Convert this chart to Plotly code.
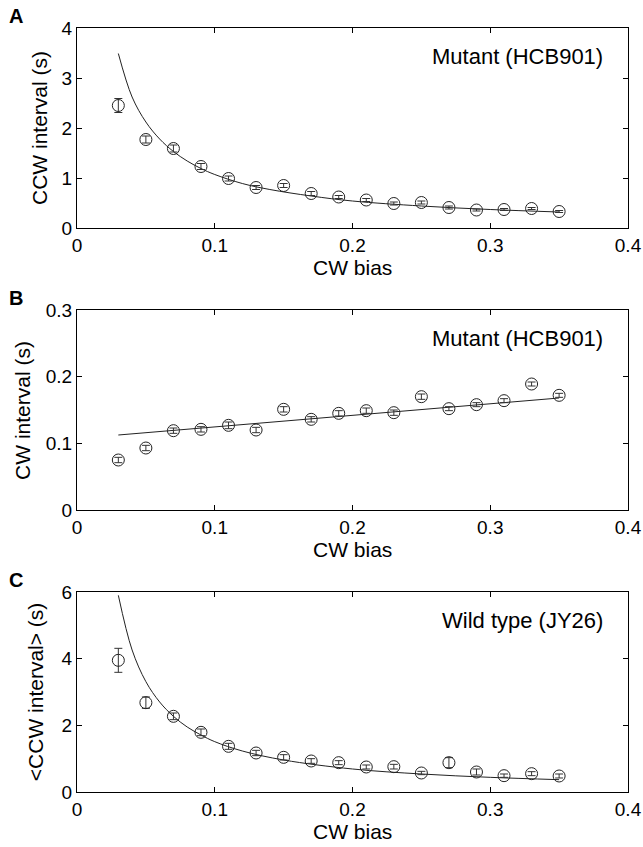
import plotly.graph_objects as go

# ---------------- data ----------------
cw_bias = [0.03, 0.05, 0.07, 0.09, 0.11, 0.13, 0.15, 0.17, 0.19, 0.21, 0.23, 0.25, 0.27, 0.29, 0.31, 0.33, 0.35]

# Panel A: Mutant (HCB901) CCW interval (s)
a_ccw = [2.45, 1.77, 1.59, 1.23, 0.99, 0.81, 0.85, 0.69, 0.62, 0.56, 0.49, 0.51, 0.41, 0.36, 0.37, 0.39, 0.33]
a_err = [0.14, 0.07, 0.07, 0.06, 0.05, 0.04, 0.04, 0.04, 0.03, 0.03, 0.03, 0.03, 0.03, 0.02, 0.02, 0.02, 0.02]
a_fit_x = [0.03, 0.04, 0.05, 0.06, 0.07, 0.08, 0.09, 0.10, 0.12, 0.14, 0.17, 0.20, 0.25, 0.30, 0.35]
a_fit_y = [3.49, 2.62, 2.12, 1.78, 1.53, 1.34, 1.19, 1.07, 0.89, 0.77, 0.64, 0.54, 0.44, 0.37, 0.32]

# Panel B: Mutant (HCB901) CW interval (s)
b_cw = [0.075, 0.093, 0.119, 0.121, 0.127, 0.120, 0.151, 0.136, 0.145, 0.149, 0.146, 0.170, 0.152, 0.158, 0.164, 0.189, 0.172]
b_err = [0.004, 0.004, 0.004, 0.004, 0.005, 0.004, 0.004, 0.004, 0.004, 0.004, 0.004, 0.004, 0.003, 0.003, 0.003, 0.003, 0.003]
b_fit_x = [0.03, 0.35]
b_fit_y = [0.1125, 0.168]

# Panel C: Wild type (JY26) <CCW interval> (s)
c_ccw = [3.95, 2.68, 2.27, 1.79, 1.37, 1.17, 1.04, 0.93, 0.88, 0.75, 0.76, 0.57, 0.88, 0.60, 0.49, 0.55, 0.48]
c_err = [0.36, 0.17, 0.10, 0.10, 0.09, 0.08, 0.08, 0.07, 0.06, 0.06, 0.07, 0.05, 0.15, 0.09, 0.05, 0.06, 0.06]
c_fit_x = [0.03, 0.04, 0.05, 0.06, 0.07, 0.08, 0.09, 0.10, 0.12, 0.15, 0.20, 0.25, 0.30, 0.35]
c_fit_y = [5.90, 4.26, 3.31, 2.70, 2.27, 1.95, 1.71, 1.51, 1.23, 0.96, 0.69, 0.54, 0.44, 0.37]

panel_letters = ["A", "B", "C"]
panel_labels = ["Mutant (HCB901)", "Mutant (HCB901)", "Wild type (JY26)"]
y_titles = ["CCW interval (s)", "CW interval (s)", "&lt;CCW interval&gt; (s)"]
x_title = "CW bias"
y_ranges = [[0, 4], [0, 0.3], [0, 6]]
y_dticks = [1, 0.1, 2]

# ---------------- figure ----------------
FONT = "Liberation Sans, Arial, Helvetica, sans-serif"
fig = go.Figure()

panels = [
    (cw_bias, a_ccw, a_err, a_fit_x, a_fit_y),
    (cw_bias, b_cw, b_err, b_fit_x, b_fit_y),
    (cw_bias, c_ccw, c_err, c_fit_x, c_fit_y),
]
domains = [[0.7382, 1.0], [0.3691, 0.6309], [0.0, 0.2618]]
ytitle_x = [-0.069, -0.100, -0.074]

for i, (x, y, e, fx, fy) in enumerate(panels):
    n = "" if i == 0 else str(i + 1)
    fig.add_trace(go.Scatter(
        x=fx, y=fy, mode="lines", line=dict(color="#222222", width=1, shape="spline", smoothing=1.0),
        xaxis="x" + n, yaxis="y" + n, showlegend=False, hoverinfo="skip"))
    fig.add_trace(go.Scatter(
        x=x, y=y, mode="markers",
        marker=dict(symbol="circle-open", size=12, color="#222222", line=dict(width=1, color="#222222")),
        error_y=dict(type="data", array=e, visible=True, color="#333333", thickness=1, width=4),
        xaxis="x" + n, yaxis="y" + n, showlegend=False))

axis_common = dict(
    showgrid=False, zeroline=False, showline=True, linecolor="black", linewidth=1,
    mirror="ticks", ticks="inside", ticklen=5, tickcolor="black", tickwidth=1,
    tickfont=dict(family=FONT, size=19, color="black"), automargin=False,
)

layout = dict(
    width=643, height=847,
    margin=dict(l=77, r=15, t=28, b=55),
    plot_bgcolor="white", paper_bgcolor="white",
    font=dict(family=FONT, size=19, color="black"),
    annotations=[],
)

TITLE_SIZE = 21
for i in range(3):
    n = "" if i == 0 else str(i + 1)
    layout["xaxis" + n] = dict(
        axis_common, domain=[0, 1], range=[0, 0.4], dtick=0.1, tick0=0, anchor="y" + n)
    layout["yaxis" + n] = dict(
        axis_common, domain=domains[i], range=y_ranges[i], dtick=y_dticks[i], tick0=0, anchor="x" + n)
    xd = ("x" + n) + " domain"
    yd = ("y" + n) + " domain"
    layout["annotations"] += [
        dict(text=panel_labels[i], xref=xd, yref=yd, x=0.958, y=0.857,
             xanchor="right", yanchor="middle", showarrow=False,
             font=dict(family=FONT, size=22, color="black")),
        dict(text="<b>" + panel_letters[i] + "</b>", xref="paper", yref=yd,
             x=-0.1107, y=1.062, xanchor="center", yanchor="middle", showarrow=False,
             font=dict(family=FONT, size=20, color="black")),
        dict(text=x_title, xref=xd, yref=yd, x=0.5, y=-0.195,
             xanchor="center", yanchor="middle", showarrow=False,
             font=dict(family=FONT, size=TITLE_SIZE, color="black")),
        dict(text=y_titles[i], xref="paper", yref=yd, x=ytitle_x[i], y=0.5, textangle=-90,
             xanchor="center", yanchor="middle", showarrow=False,
             font=dict(family=FONT, size=TITLE_SIZE, color="black")),
    ]

fig.update_layout(**layout)
fig.write_html("out.html", config={"displayModeBar": False},
               post_script="document.body.style.margin='0';document.body.style.overflow='hidden';")
